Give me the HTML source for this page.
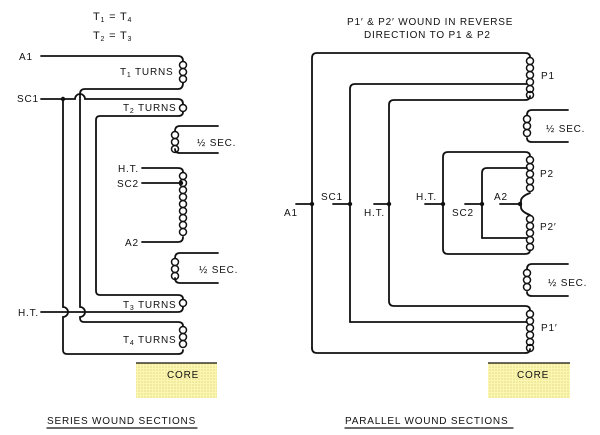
<!DOCTYPE html>
<html><head><meta charset="utf-8"><style>
html,body{margin:0;padding:0;background:#fff;}
svg{display:block}
text{font-family:"Liberation Sans Narrow","Liberation Sans",sans-serif;font-size:10px;fill:#111;letter-spacing:0.8px}
</style></head><body>
<svg width="600" height="435" viewBox="0 0 600 435" xmlns="http://www.w3.org/2000/svg">
<defs>
<pattern id="dots" width="3" height="3" patternUnits="userSpaceOnUse"><rect width="3" height="3" fill="#fbf6b0"/><circle cx="1" cy="1" r="0.6" fill="#d8cf70"/></pattern>
</defs>
<g fill="none" stroke="#111" stroke-width="1.8" stroke-linecap="round">
<!-- LEFT -->
<path d="M41 56 H178 Q183 56 183 61"/>
<path d="M183 83 Q183 89 178 89 H85 Q80 89 80 94 V307 A5 5 0 0 1 80 317 V318 Q80 322 84 322 H178 Q183 322 183 326"/>
<path d="M183 350 Q183 354 178 354 H67 Q63 354 63 350 V317 A5 5 0 0 0 63 307 V99"/>
<path d="M41 99 H75 A5 5 0 0 1 85 99 H178 Q183 99 183 104"/>
<path d="M183 112 Q183 116 178 116 H100 Q96 116 96 120 V291 Q96 295 100 295 H178 Q183 295 183 299"/>
<path d="M183 307 Q183 312 178 312 H41"/>
<path d="M218 126 H180 Q175 126 175 131"/><path d="M175 149 Q175 153 180 153 H218"/>
<path d="M218 253 H180 Q175 253 175 258"/><path d="M175 278 Q175 283 180 283 H218"/>
<path d="M142 168 H178 Q183 168 183 172"/><path d="M183 237 Q183 242 178 242 H142"/>
<path d="M142 183 H181"/>
<!-- left coils -->
<g stroke-width="1.5">
<circle cx="183" cy="65" r="3.5"/><circle cx="183" cy="72" r="3.5"/><circle cx="183" cy="79" r="3.5"/>
<circle cx="183" cy="108" r="3.5"/>
<circle cx="183" cy="303" r="3.5"/>
<circle cx="183" cy="330" r="3.5"/><circle cx="183" cy="337" r="3.5"/><circle cx="183" cy="344" r="3.5"/>
<circle cx="175" cy="135" r="3.5"/><circle cx="175" cy="142" r="3.5"/><circle cx="175" cy="149" r="3.5"/>
<circle cx="175" cy="262" r="3.5"/><circle cx="175" cy="269" r="3.5"/><circle cx="175" cy="276" r="3.5"/>
<circle cx="183" cy="176" r="3.5"/><circle cx="183" cy="183" r="3.5"/><circle cx="183" cy="190" r="3.5"/><circle cx="183" cy="197" r="3.5"/><circle cx="183" cy="204" r="3.5"/><circle cx="183" cy="211" r="3.5"/><circle cx="183" cy="218" r="3.5"/><circle cx="183" cy="225" r="3.5"/><circle cx="183" cy="232" r="3.5"/>
</g>
<!-- RIGHT -->
<path d="M312 348 V58 Q312 53 317 53 H525 Q530 53 530 57"/>
<path d="M530 96 Q530 100 525 100 H394 Q389 100 389 105 V301 Q389 306 394 306 H525 Q530 306 530 310"/>
<path d="M530 349 Q530 353 525 353 H317 Q312 353 312 348"/>
<path d="M350 322 V89 Q350 84 355 84 H527"/><path d="M350 322 H527"/>
<path d="M296 204 H312"/><path d="M333 204 H350"/><path d="M374 204 H389"/>
<path d="M568 110 H532 Q527 110 527 115"/><path d="M527 138 Q527 142 532 142 H568"/>
<path d="M568 264 H532 Q527 264 527 269"/><path d="M527 292 Q527 296 532 296 H568"/>
<path d="M530 156 Q530 152 525 152 H448 Q443 152 443 157 V249 Q443 254 448 254 H525 Q530 254 530 250"/>
<path d="M530 193 Q522 196 521 200 V208 Q522 212 530 215"/>
<path d="M482 238 V173 Q482 168 487 168 H527"/><path d="M482 238 H527"/>
<path d="M425 204 H443"/><path d="M465 204 H482"/><path d="M500 204 H520"/>
<g stroke-width="1.5">
<circle cx="530" cy="61" r="3.5"/><circle cx="530" cy="68" r="3.5"/><circle cx="530" cy="75" r="3.5"/><circle cx="530" cy="82" r="3.5"/><circle cx="530" cy="89" r="3.5"/><circle cx="530" cy="95" r="3.5"/>
<circle cx="530" cy="314" r="3.5"/><circle cx="530" cy="321" r="3.5"/><circle cx="530" cy="328" r="3.5"/><circle cx="530" cy="335" r="3.5"/><circle cx="530" cy="342" r="3.5"/><circle cx="530" cy="348" r="3.5"/>
<circle cx="527" cy="119" r="3.5"/><circle cx="527" cy="126" r="3.5"/><circle cx="527" cy="133" r="3.5"/>
<circle cx="527" cy="273" r="3.5"/><circle cx="527" cy="280" r="3.5"/><circle cx="527" cy="287" r="3.5"/>
<circle cx="530" cy="160" r="3.5"/><circle cx="530" cy="167" r="3.5"/><circle cx="530" cy="174" r="3.5"/><circle cx="530" cy="181" r="3.5"/><circle cx="530" cy="188" r="3.5"/>
<circle cx="530" cy="219" r="3.5"/><circle cx="530" cy="226" r="3.5"/><circle cx="530" cy="233" r="3.5"/><circle cx="530" cy="240" r="3.5"/><circle cx="530" cy="247" r="3.5"/>
</g>
<!-- underlines -->
<path d="M47 428 H197" stroke-width="1.2"/><path d="M345 428 H513" stroke-width="1.2"/>
</g>
<g fill="#111">
<circle cx="63" cy="99" r="2.2"/><circle cx="181" cy="183" r="2.2"/>
<circle cx="312" cy="204" r="2.2"/><circle cx="350" cy="204" r="2.2"/><circle cx="389" cy="204" r="2.2"/>
<circle cx="443" cy="204" r="2.2"/><circle cx="482" cy="204" r="2.2"/><circle cx="520" cy="204" r="2.2"/>
</g>
<!-- cores -->
<rect x="136" y="363" width="81" height="35" fill="url(#dots)"/><path d="M136 363 H217" stroke="#111" stroke-width="1.2"/>
<rect x="488" y="363" width="82" height="35" fill="url(#dots)"/><path d="M488 363 H570" stroke="#111" stroke-width="1.2"/>
<text x="167" y="378">CORE</text><text x="517" y="378">CORE</text>
<!-- left labels -->
<text x="93" y="20" style="font-size:11px">T<tspan font-size="7" dy="2">1</tspan><tspan dy="-2"> = T</tspan><tspan font-size="7" dy="2">4</tspan></text>
<text x="93" y="39" style="font-size:11px">T<tspan font-size="7" dy="2">2</tspan><tspan dy="-2"> = T</tspan><tspan font-size="7" dy="2">3</tspan></text>
<text x="19" y="60">A1</text><text x="17" y="102">SC1</text><text x="18" y="316">H.T.</text>
<text x="120" y="75">T<tspan font-size="7" dy="2">1</tspan><tspan dy="-2"> TURNS</tspan></text>
<text x="123" y="111">T<tspan font-size="7" dy="2">2</tspan><tspan dy="-2"> TURNS</tspan></text>
<text x="123" y="308">T<tspan font-size="7" dy="2">3</tspan><tspan dy="-2"> TURNS</tspan></text>
<text x="123" y="343">T<tspan font-size="7" dy="2">4</tspan><tspan dy="-2"> TURNS</tspan></text>
<text x="197" y="146">½ SEC.</text><text x="199" y="273">½ SEC.</text>
<text x="118" y="172">H.T.</text><text x="117" y="187">SC2</text><text x="125" y="246">A2</text>
<text x="47" y="424">SERIES WOUND SECTIONS</text>
<!-- right labels -->
<text x="347" y="25">P1′ &amp; P2′ WOUND IN REVERSE</text>
<text x="364" y="38">DIRECTION TO P1 &amp; P2</text>
<text x="541" y="79">P1</text><text x="546" y="132">½ SEC.</text>
<text x="540" y="177">P2</text><text x="540" y="230">P2′</text>
<text x="548" y="286">½ SEC.</text><text x="541" y="331">P1′</text>
<text x="284" y="216">A1</text><text x="321" y="200">SC1</text><text x="364" y="216">H.T.</text>
<text x="416" y="200">H.T.</text><text x="452" y="216">SC2</text><text x="494" y="200">A2</text>
<text x="345" y="424">PARALLEL WOUND SECTIONS</text>
</svg>
</body></html>
